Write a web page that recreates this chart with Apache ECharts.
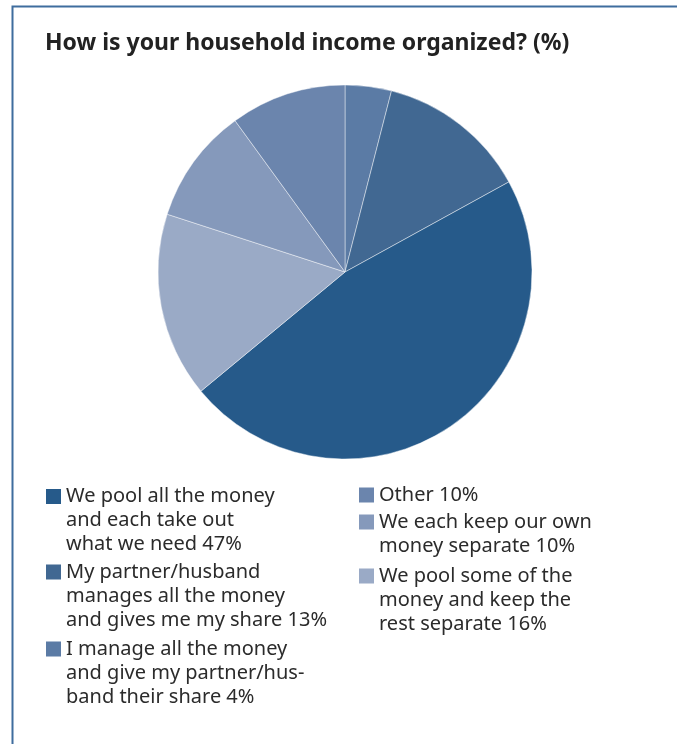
<!DOCTYPE html>
<html>
<head>
<meta charset="utf-8">
<title>How is your household income organized? (%)</title>
<script src="https://cdn.jsdelivr.net/npm/echarts@6/dist/echarts.min.js"></script>
<style>
  html, body { margin: 0; padding: 0; background: #ffffff; }
  #chart { width: 677px; height: 744px; }
</style>
</head>
<body>
<div id="chart"></div>
<script>
// Answer categories, listed clockwise from 12 o'clock
const categories = [
  'I manage all the money\nand give my partner/hus-\nband their share',
  'My partner/husband\nmanages all the money\nand gives me my share',
  'We pool all the money\nand each take out\nwhat we need',
  'We pool some of the\nmoney and keep the\nrest separate',
  'We each keep our own\nmoney separate',
  'Other'
];
// Share of respondents, percent
const values = [4, 13, 47, 16, 10, 10];
// Slice colours, same order as categories
const palette = ['#5b7ba5', '#416892', '#265a8a', '#9aaac6', '#8599bb', '#6b85ad'];

// Legend layout: two columns, each entry placed on its own
const legendLeftCol = [2, 1, 0];
const legendRightCol = [5, 4, 3];

const FONT = '"Noto Sans", "Open Sans", sans-serif';
const LINE_H = 24;
const SQ = 15;

function lineCount(s) { return s.split('\n').length; }

// Icon: a square sitting on the first text line, padded to the full entry height
function iconFor(n) {
  const h = n * LINE_H;
  const top = (LINE_H - SQ) / 2;
  return 'path://M0,0 M0,' + top + ' H' + SQ + ' V' + (top + SQ) + ' H0 Z M' + SQ + ',' + h;
}

function makeLegend(idx, left, top) {
  const name = categories[idx];
  const n = lineCount(name);
  return {
    left: left,
    top: top,
    padding: 0,
    orient: 'vertical',
    selectedMode: false,
    data: [name],
    icon: iconFor(n),
    itemWidth: SQ,
    itemHeight: n * LINE_H,
    itemStyle: { borderWidth: 0 },
    textStyle: {
      fontFamily: FONT,
      fontSize: 20,
      lineHeight: LINE_H,
      color: '#2b2b2b'
    },
    formatter: function (nm) {
      return nm + ' ' + values[categories.indexOf(nm)] + '%';
    }
  };
}

const legendTopsLeft = [484.5, 560, 637];
const legendTopsRight = [483, 510, 564];

const legends = [];
legendLeftCol.forEach(function (idx, i) { legends.push(makeLegend(idx, 46, legendTopsLeft[i])); });
legendRightCol.forEach(function (idx, i) { legends.push(makeLegend(idx, 359, legendTopsRight[i])); });

const chart = echarts.init(document.getElementById('chart'), null, { renderer: 'canvas' });

chart.setOption({
  animation: false,
  backgroundColor: '#ffffff',
  title: {
    text: 'How is your household income organized? (%)',
    left: 45,
    top: 32,
    padding: 0,
    textStyle: {
      fontFamily: FONT,
      fontSize: 23,
      fontWeight: 'bold',
      color: '#222222'
    }
  },
  legend: legends,
  graphic: [
    {
      type: 'polyline',
      silent: true,
      shape: { points: [[12.5, 744], [12.5, 6.5], [677, 6.5]] },
      style: { stroke: '#3f6d9e', lineWidth: 2, fill: null }
    }
  ],
  series: [
    {
      type: 'pie',
      center: [345, 272],
      radius: 187,
      startAngle: 90,
      clockwise: true,
      silent: true,
      label: { show: false },
      labelLine: { show: false },
      itemStyle: { borderColor: 'rgba(255,255,255,0.55)', borderWidth: 0.8 },
      data: categories.map(function (c, i) {
        return { name: c, value: values[i], itemStyle: { color: palette[i] } };
      })
    }
  ]
});
</script>
</body>
</html>
